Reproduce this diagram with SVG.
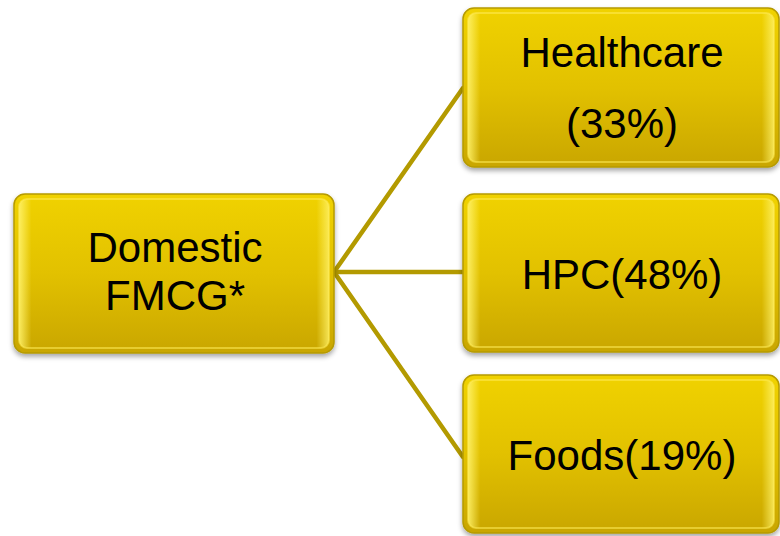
<svg xmlns="http://www.w3.org/2000/svg" width="780" height="536" viewBox="0 0 780 536">
<defs>
<linearGradient id="fill" x1="0" y1="0" x2="0" y2="1">
<stop offset="0" stop-color="#F0D200"/>
<stop offset="0.5" stop-color="#E2C100"/>
<stop offset="1" stop-color="#C9A600"/>
</linearGradient>
<linearGradient id="side" x1="0" y1="0" x2="1" y2="0">
<stop offset="0" stop-color="#FFF26A" stop-opacity="0.9"/>
<stop offset="0.04" stop-color="#FFF26A" stop-opacity="0"/>
<stop offset="0.96" stop-color="#FFF26A" stop-opacity="0"/>
<stop offset="1" stop-color="#FFF26A" stop-opacity="0.8"/>
</linearGradient>
<filter id="sh" x="-10%" y="-10%" width="120%" height="130%">
<feGaussianBlur in="SourceAlpha" stdDeviation="2.5"/>
<feOffset dy="3" result="b"/>
<feFlood flood-color="#000" flood-opacity="0.35"/>
<feComposite in2="b" operator="in"/>
<feMerge><feMergeNode/><feMergeNode in="SourceGraphic"/></feMerge>
</filter>
</defs>
<style>
.box{fill:url(#fill);stroke:#B59A00;stroke-width:1.5;filter:url(#sh)}
.bev{fill:url(#side);stroke:#FFEB55;stroke-opacity:0.55;stroke-width:2}
.lbl{font-family:"Liberation Sans",Arial,sans-serif;font-size:42px;fill:#000;text-anchor:middle}
.con{stroke:#B39A00;stroke-width:4.5;fill:none;stroke-linecap:round}
</style>
<g id="connectors">
<line class="con" x1="334" y1="272" x2="463" y2="88"/>
<line class="con" x1="334" y1="272" x2="463" y2="272"/>
<line class="con" x1="334" y1="272" x2="463" y2="457"/>
</g>
<g id="domestic">
<rect class="box" x="14" y="194" width="320" height="159" rx="11"/>
<rect class="bev" x="19" y="199" width="310" height="149" rx="8"/>
<text class="lbl" x="175" y="262">Domestic</text>
<text class="lbl" x="175" y="310">FMCG*</text>
</g>
<g id="healthcare">
<rect class="box" x="463" y="8" width="316" height="159" rx="11"/>
<rect class="bev" x="468" y="13" width="306" height="149" rx="8"/>
<text class="lbl" x="622" y="67">Healthcare</text>
<text class="lbl" x="622" y="138">(33%)</text>
</g>
<g id="hpc">
<rect class="box" x="463" y="194" width="316" height="158" rx="11"/>
<rect class="bev" x="468" y="199" width="306" height="148" rx="8"/>
<text class="lbl" x="622" y="289">HPC(48%)</text>
</g>
<g id="foods">
<rect class="box" x="463" y="375" width="316" height="158" rx="11"/>
<rect class="bev" x="468" y="380" width="306" height="148" rx="8"/>
<text class="lbl" x="622" y="470">Foods(19%)</text>
</g>
</svg>
